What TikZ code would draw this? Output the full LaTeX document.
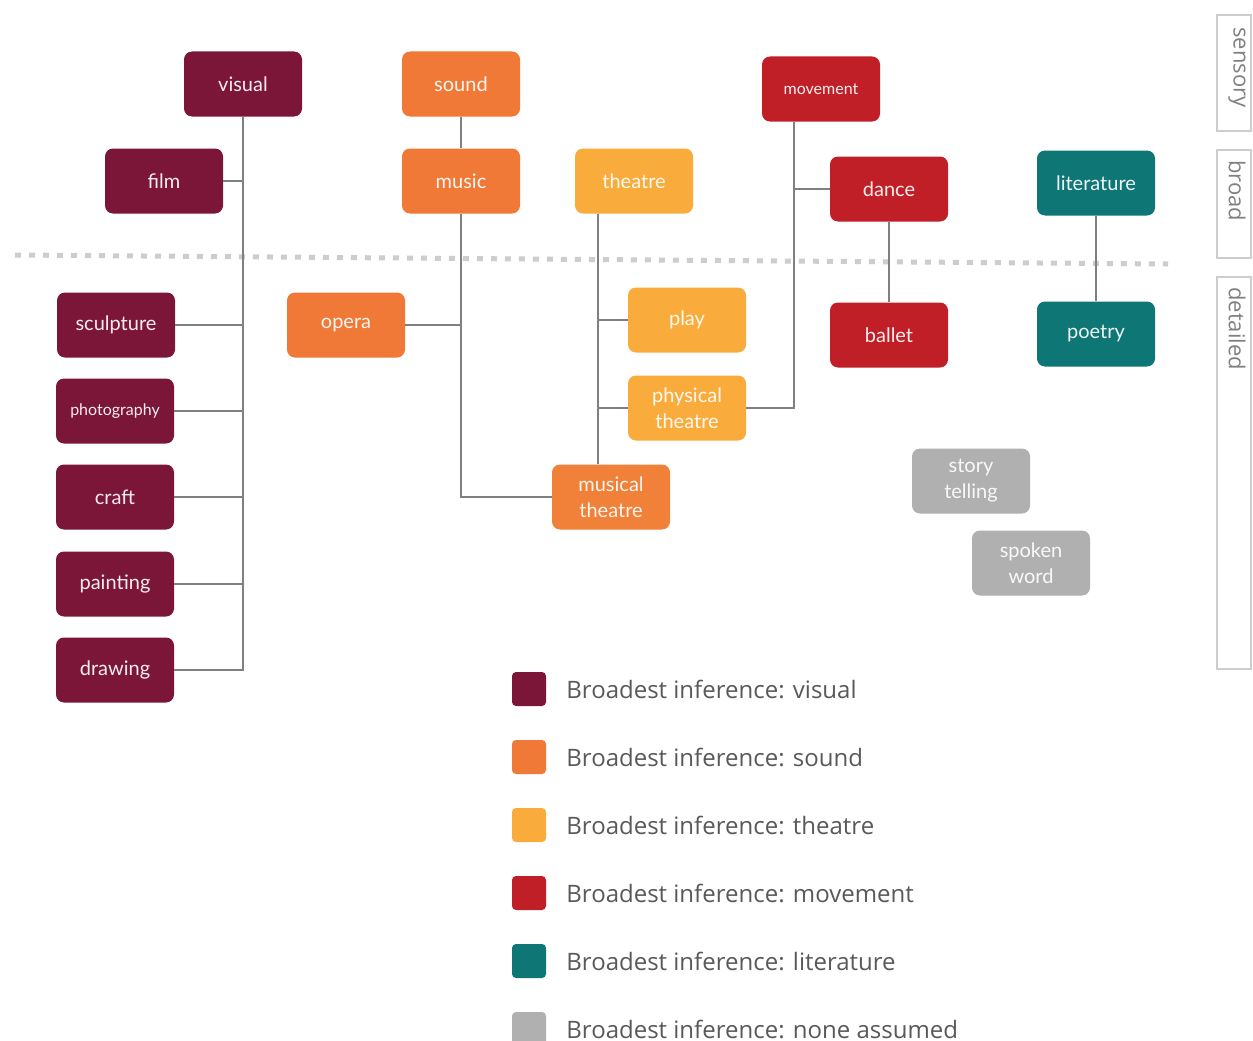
\documentclass[tikz,border=0pt]{standalone}
\usepackage{fontspec}
\setmainfont{Lato}
\newfontfamily\legendfont{Open Sans}
\usetikzlibrary{positioning}

\definecolor{visualc}{RGB}{123,22,56}
\definecolor{soundc}{RGB}{240,121,55}
\definecolor{theatrec}{RGB}{249,172,60}
\definecolor{movec}{RGB}{193,31,40}
\definecolor{litc}{RGB}{14,118,116}
\definecolor{nonec}{RGB}{176,176,176}
\definecolor{linec}{RGB}{128,128,128}
\definecolor{dotc}{RGB}{205,205,205}
\definecolor{textc}{RGB}{89,89,89}

\tikzset{
  box/.style={rounded corners=8pt, minimum width=118pt, minimum height=65pt, inner sep=0pt,
    text=white, text opacity=0.92, align=center, font=\fontsize{20}{26}\selectfont},
  vis/.style={box, fill=visualc},
  snd/.style={box, fill=soundc},
  thr/.style={box, fill=theatrec},
  mov/.style={box, fill=movec},
  lit/.style={box, fill=litc},
  non/.style={box, fill=nonec},
  small/.style={font=\fontsize{16}{20}\selectfont},
  conn/.style={draw=linec, line width=1.4pt},
  legbox/.style={rounded corners=4pt, minimum size=34pt, inner sep=0pt},
  legtext/.style={inner sep=0pt, text=textc, font=\legendfont\fontsize{24}{28}\selectfont},
  tab/.style={draw=dotc, line width=1.2pt},
  tabtext/.style={rotate=-90, anchor=west, inner sep=0pt, text=linec, font=\legendfont\fontsize{22}{26}\selectfont}
}

\begin{document}
\begin{tikzpicture}[x=1pt,y=-1pt]
\useasboundingbox[fill=white] (0,0) rectangle (1253,1041);

% broad / detailed separator
\coordinate (sepL) at (15,255);
\coordinate (sepR) at (1168,264);
\draw[dotc, line width=5pt, dash pattern=on 6pt off 8pt] (sepL) -- (sepR);

% level tabs
\draw[tab] (1217,15) rectangle (1251,131);
\draw[tab] (1217,150) rectangle (1251,258);
\draw[tab] (1217,277) rectangle (1251,669);
\node[tabtext] (sensory) at (1237,27) {sensory};
\node[tabtext] (broad) at (1237,160) {broad};
\node[tabtext] (detailed) at (1237,287) {detailed};

% visual
\node[vis] (visual) at (243,84) {visual};
\node[vis] (film) at (164,181) {film};
\node[vis] (sculpture) at (116,325) {sculpture};
\node[vis,small] (photography) at (115,411) {photography};
\node[vis] (craft) at (115,497) {craft};
\node[vis] (painting) at (115,584) {painting};
\node[vis] (drawing) at (115,670) {drawing};

% sound
\node[snd] (sound) at (461,84) {sound};
\node[snd] (music) at (461,181) {music};
\node[snd] (opera) at (346,325) {opera};
\node[snd, fill=soundc!85!theatrec] (musical) at (611,497) {musical\\theatre};

% theatre
\node[thr] (theatre) at (634,181) {theatre};
\node[thr] (play) at (687,320) {play};
\node[thr] (physical) at (687,408) {physical\\theatre};

% movement
\node[mov,small] (movement) at (821,89) {movement};
\node[mov] (dance) at (889,189) {dance};
\node[mov] (ballet) at (889,335) {ballet};

% literature
\node[lit] (literature) at (1096,183) {literature};
\node[lit] (poetry) at (1096,334) {poetry};

% none assumed
\node[non] (story) at (971,481) {story\\telling};
\node[non] (spoken) at (1031,563) {spoken\\word};

% connectors
\draw[conn] (visual.south) |- (drawing.east);
\foreach \n in {film,sculpture,photography,craft,painting}
  \draw[conn] (\n.east) -- (\n.east -| visual.south);
\draw[conn] (sound) -- (music);
\draw[conn] (music.south) |- (musical.west);
\draw[conn] (opera.east) -- (opera.east -| music.south);
\coordinate (thtrunk) at ([xshift=-36pt]theatre.south);
\draw[conn] (thtrunk) -- (thtrunk |- musical.north);
\draw[conn] (play.west) -- (play.west -| thtrunk);
\draw[conn] (physical.west) -- (physical.west -| thtrunk);
\coordinate (mvtrunk) at ([xshift=-27pt]movement.south);
\draw[conn] (mvtrunk) |- (physical.east);
\draw[conn] (dance.west) -- (dance.west -| mvtrunk);
\draw[conn] (dance) -- (ballet);
\draw[conn] (literature) -- (poetry);

% legend
\foreach \c/\t [count=\i from 0] in {visualc/visual, soundc/sound, theatrec/theatre, movec/movement, litc/literature, nonec/none assumed} {
  \node[legbox, fill=\c] (leg\i) at (529,689+68*\i) {};
  \node[legtext, right=20pt of leg\i] (legt\i) {Broadest inference: \t};
}
\end{tikzpicture}
\end{document}
